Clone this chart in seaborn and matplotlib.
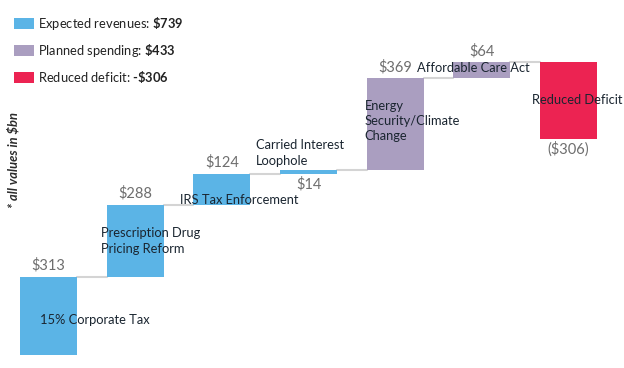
import matplotlib
matplotlib.use("Agg")
import matplotlib.pyplot as plt
from matplotlib.patches import Patch
import seaborn as sns
import pandas as pd
import numpy as np

# ---- data ----
categories = ["15% Corporate Tax", "Prescription Drug\nPricing Reform", "IRS Tax Enforcement",
              "Carried Interest\nLoophole", "Energy\nSecurity/Climate\nChange",
              "Affordable Care Act", "Reduced Deficit"]
values = [313, 288, 124, 14, 369, 64, -306]
value_labels = ["$313", "$288", "$124", "$14", "$369", "$64", "($306)"]
groups = ["revenue", "revenue", "revenue", "revenue", "spending", "spending", "deficit"]
legend_labels = [r"Expected revenues: $\mathbf{\$739}$",
                 r"Planned spending: $\mathbf{\$433}$",
                 "Reduced deficit: $\\mathbf{\u2010\\$306}$"]
note = "* all values in $bn"

# ---- styles / layout ----
colors = {"revenue": "#5BB4E6", "spending": "#AA9EC0", "deficit": "#EC2352"}
value_pos = ["above", "above", "above", "below", "above", "above", "below"]
label_dx = [-0.10, -0.395, -0.483, -0.607, -0.35, -0.75, -0.424]
label_y = [140, 456, 620, 808, 936, 1148, 1020]

sns.set_theme(style="white")
plt.rcParams["font.family"] = ["Lato", "DejaVu Sans"]
plt.rcParams["mathtext.fontset"] = "custom"
plt.rcParams["mathtext.rm"] = "Lato"
plt.rcParams["mathtext.bf"] = "Lato:bold"

ends = np.cumsum(values)
starts = ends - np.array(values)
df = pd.DataFrame({"cat": categories, "height": np.abs(values), "group": groups})

fig = plt.figure(figsize=(6.24, 3.68), dpi=100)
ax = fig.add_axes([0, 0, 1, 1])
sns.barplot(data=df, x="cat", y="height", hue="cat",
            palette=[colors[g] for g in groups], legend=False,
            width=0.66, ax=ax, saturation=1, linewidth=0)
for p, s, e in zip(ax.patches, starts, ends):
    p.set_y(min(s, e))

# connectors
for i in range(len(values) - 1):
    ax.plot([i + 0.33, i + 1 - 0.33], [ends[i], ends[i]], color="#D4D4D4", lw=1.5, zorder=0)

# value labels
for i, (lab, pos) in enumerate(zip(value_labels, value_pos)):
    top = max(starts[i], ends[i]); bot = min(starts[i], ends[i])
    if pos == "above":
        ax.annotate(lab, (i, top), xytext=(0, 8), textcoords="offset points",
                    ha="center", va="center", fontsize=10.5, color="#6E6E6E")
    else:
        ax.annotate(lab, (i, bot), xytext=(0, -7.5), textcoords="offset points",
                    ha="center", va="center", fontsize=10.5, color="#6E6E6E")

# category labels
for i, (lab, dx, y) in enumerate(zip(categories, label_dx, label_y)):
    ax.text(i + dx, y, lab, ha="left", va="center", fontsize=9.3, color="#1A2530",
            linespacing=1.35)

ax.text(-0.41, 780, note, rotation=90, ha="center", va="center",
        fontsize=9.3, fontweight="bold", fontstyle="italic", color="#2B2B2B")

handles = [Patch(facecolor=colors[g], edgecolor="none") for g in ["revenue", "spending", "deficit"]]
ax.legend(handles, legend_labels, loc="upper left", bbox_to_anchor=(14 / 624, 1 - 15 / 368),
          frameon=False, fontsize=9.3, borderpad=0, borderaxespad=0,
          handlelength=1.55, handleheight=0.95, handletextpad=0.3, labelspacing=0.78,
          labelcolor="#222222")

ax.set_xlim(-0.56, 6.64)
ax.set_ylim(-52, 1420)
ax.axis("off")
fig.savefig("out.png", dpi=100, facecolor="white")
